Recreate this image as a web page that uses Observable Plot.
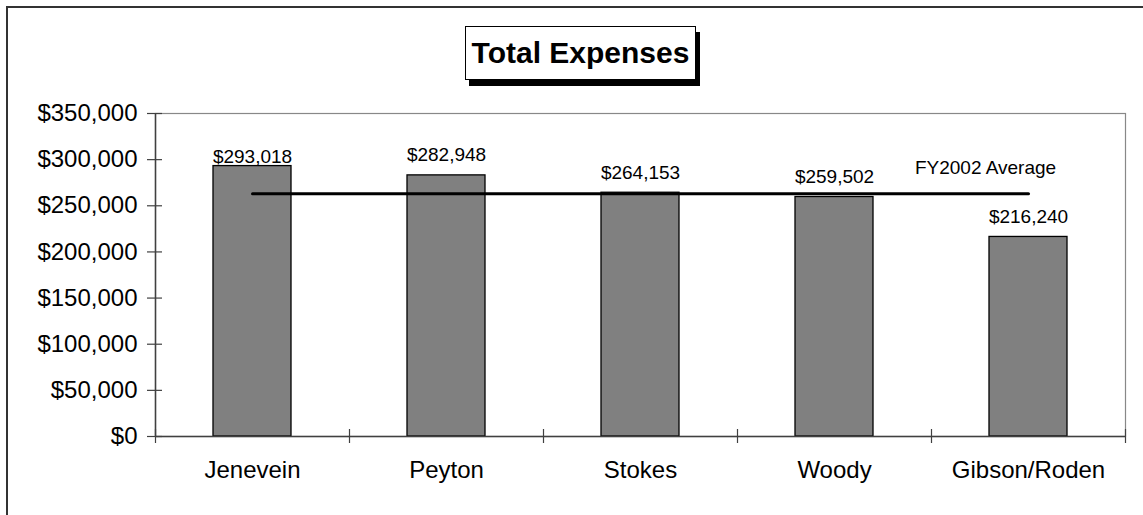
<!DOCTYPE html>
<html><head><meta charset="utf-8">
<script src="https://cdn.jsdelivr.net/npm/d3@7"></script>
<script src="https://cdn.jsdelivr.net/npm/@observablehq/plot@0.6"></script>
<style>
html,body{margin:0;padding:0;background:#fff;overflow:hidden;}
#wrap{position:relative;width:1143px;height:515px;overflow:hidden;font-family:"Liberation Sans",Arial,sans-serif;}
#border{position:absolute;left:6px;top:6px;width:1300px;height:700px;border:2px solid #333;box-sizing:border-box;}
#title{position:absolute;left:465px;top:26px;width:231px;height:54px;border:1.5px solid #000;box-sizing:border-box;box-shadow:4px 6px 0 #000;background:#fff;font-weight:bold;font-size:30px;text-align:center;line-height:51px;color:#000;}
#chart{position:absolute;left:0;top:0;}
</style></head><body>
<div id="wrap"><div id="border"></div><div id="chart"></div><div id="title">Total Expenses</div></div>
<script>
const categories = ["Jenevein", "Peyton", "Stokes", "Woody", "Gibson/Roden"];
const expenses = [293018, 282948, 264153, 259502, 216240];
const averageLabel = "FY2002 Average";
const averageValue = 263172;
const yTicks = [0, 50000, 100000, 150000, 200000, 250000, 300000, 350000];

const data = categories.map((name, i) => ({name, value: expenses[i]}));
const avgPts = [categories[0], categories[categories.length - 1]].map(name => ({name, value: averageValue}));

const W = 1143, H = 515, mL = 155, mR = 18, mT = 113, mB = 79;
const plotW = W - mL - mR, plotH = H - mT - mB;
const step = plotW / categories.length;
const money = d => "$" + d3.format(",")(d);
const axisColor = "#404040";
const font = "'Liberation Sans', Arial, sans-serif";

const chart = Plot.plot({
  width: W, height: H,
  marginLeft: mL, marginRight: mR, marginTop: mT, marginBottom: mB,
  style: {fontFamily: font, color: "#000", background: "transparent", overflow: "visible"},
  x: {type: "band", domain: categories, paddingInner: 0.6, paddingOuter: 0.3, label: null},
  y: {domain: [0, 350000], label: null},
  marks: [
    Plot.frame({stroke: "#888", strokeWidth: 1.2}),
    Plot.barY(data, {x: "name", y: "value", fill: "#808080", stroke: "#000", strokeWidth: 1.3}),
    Plot.ruleX([categories[0]], {dx: -step / 2, stroke: axisColor, strokeWidth: 1.5}),
    Plot.ruleY([0], {stroke: axisColor, strokeWidth: 1.5}),
    Plot.ruleY(yTicks, {insetLeft: -8, insetRight: plotW - 7, stroke: axisColor, strokeWidth: 1.2}),
    Plot.ruleX(categories, {dx: -step / 2, insetTop: plotH - 7, insetBottom: -7, stroke: axisColor, strokeWidth: 1.2}),
    Plot.ruleX([categories[categories.length - 1]], {dx: step / 2, insetTop: plotH - 7, insetBottom: -7, stroke: axisColor, strokeWidth: 1.2}),
    Plot.lineY(avgPts, {x: "name", y: "value", stroke: "#000", strokeWidth: 3}),
    Plot.text([averageLabel], {x: () => categories[categories.length - 1], y: () => averageValue, text: d => d, dx: -43, dy: -20, lineAnchor: "bottom", fontSize: 19, fill: "#000"}),
    Plot.text(data, {filter: (d, i) => i === 0, x: "name", y: "value", text: d => money(d.value), dy: -3, lineAnchor: "bottom", fontSize: 19, fill: "#000"}),
    Plot.text(data, {filter: (d, i) => i > 0, x: "name", y: "value", text: d => money(d.value), dy: -14, lineAnchor: "bottom", fontSize: 19, fill: "#000"}),
    Plot.axisY(yTicks, {tickSize: 0, tickPadding: 18, tickFormat: money, fontSize: 24, label: null, fill: "#000"}),
    Plot.axisX({tickSize: 0, tickPadding: 24, fontSize: 24, label: null, fill: "#000"})
  ]
});
document.getElementById("chart").appendChild(chart);
</script>
</body></html>
